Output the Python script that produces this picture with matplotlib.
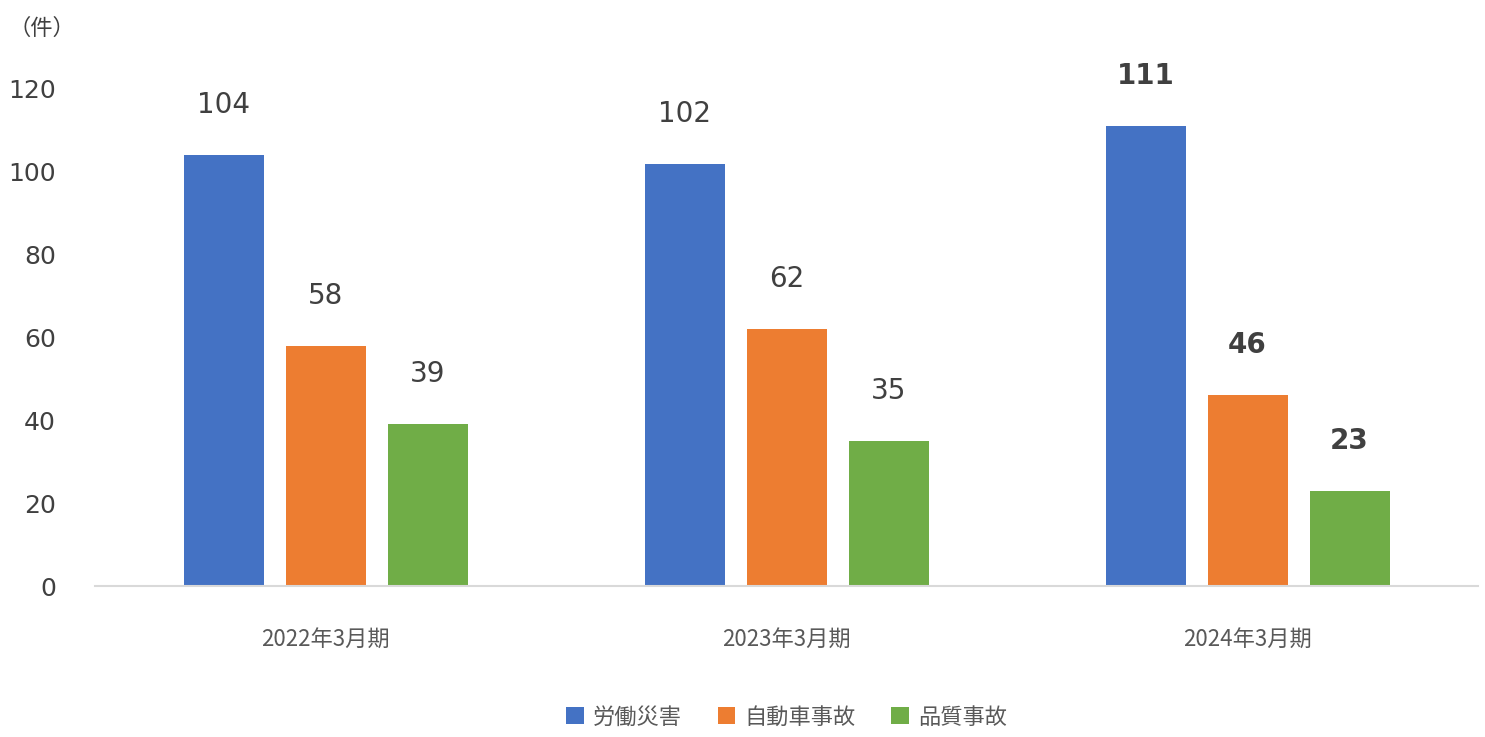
import matplotlib
matplotlib.use("Agg")
import matplotlib.pyplot as plt
import numpy as np

plt.rcParams['font.family'] = ['DejaVu Sans', 'Noto Sans CJK JP']

categories = ['2022年3月期', '2023年3月期', '2024年3月期']
series = ['労働災害', '自動車事故', '品質事故']
values = [[104, 102, 111], [58, 62, 46], [39, 35, 23]]
colors = ['#4472C4', '#ED7D31', '#70AD47']
txt = '#404040'

fig = plt.figure(figsize=(14.85, 7.37), dpi=100)
ax = fig.add_axes([95/1485, 1-586/737, 1383/1485, (586-89)/737])

x = np.arange(len(categories))
w = 80/461
off = 102/461
for i, (s, vals, c) in enumerate(zip(series, values, colors)):
    pos = x + (i-1)*off
    ax.bar(pos, vals, width=w, color=c, label=s)
    for j, (p, v) in enumerate(zip(pos, vals)):
        ax.annotate(str(v), (p, v), xytext=(0, 36), textcoords='offset points',
                    ha='center', va='center', fontsize=20, color=txt,
                    fontweight='bold' if j == 2 else 'normal', annotation_clip=False)

ax.set_xlim(-0.5, 2.5)
ax.set_ylim(0, 120)
ax.set_yticks(range(0, 121, 20))
ax.set_xticks(x)
ax.set_xticklabels(categories, family=['Noto Sans CJK JP'], fontsize=16, color='#595959')
ax.tick_params(axis='y', labelsize=18, labelcolor=txt, length=0, pad=28)
ax.tick_params(axis='x', length=0, pad=30)
for sp in ['top', 'right', 'left']:
    ax.spines[sp].set_visible(False)
ax.spines['bottom'].set_color('#D9D9D9')
ax.spines['bottom'].set_linewidth(1.5)

fig.text(8/1485, 1-28/737, '（件）', family=['Noto Sans CJK JP'], fontsize=16, color=txt, va='center')

leg = ax.legend(loc='center', bbox_to_anchor=(0.5 - 95/1485*0, (586-717)/(586-89) ), ncol=3,
                frameon=False, prop={'family': 'Noto Sans CJK JP', 'size': 16},
                handlelength=0.8, handleheight=0.8, columnspacing=1.6, handletextpad=0.4)
for t in leg.get_texts():
    t.set_color('#595959')

fig.savefig('out.png', dpi=100)
